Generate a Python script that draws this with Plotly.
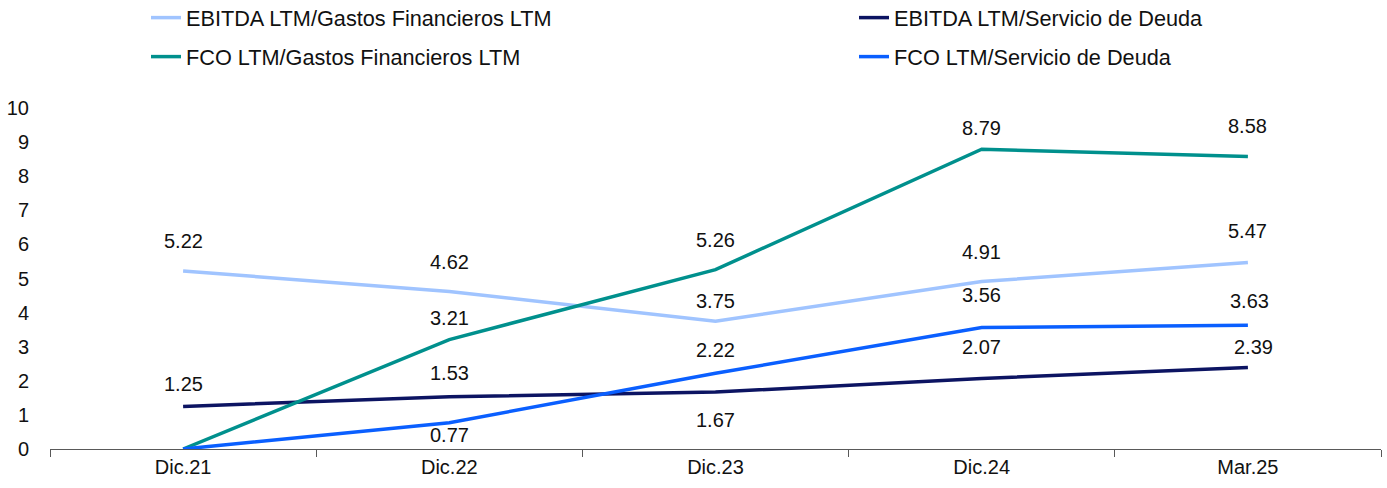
import plotly.graph_objects as go

categories = ["Dic.21", "Dic.22", "Dic.23", "Dic.24", "Mar.25"]

ebitda_gf = [5.22, 4.62, 3.75, 4.91, 5.47]
ebitda_sd = [1.25, 1.53, 1.67, 2.07, 2.39]
fco_gf = [0.0, 3.21, 5.26, 8.79, 8.58]
fco_sd = [0.0, 0.77, 2.22, 3.56, 3.63]

series_names = [
    "EBITDA LTM/Gastos Financieros LTM",
    "EBITDA LTM/Servicio de Deuda",
    "FCO LTM/Gastos Financieros LTM",
    "FCO LTM/Servicio de Deuda",
]
series_values = [ebitda_gf, ebitda_sd, fco_gf, fco_sd]
colors = ["#A0C4FF", "#0C1462", "#00908D", "#0A5FFF"]
legend_ids = ["legend", "legend2", "legend3", "legend4"]
# legend entry placement (px in the page): left of entry, vertical centre
legend_px = [(146, 18), (854, 18), (146, 57), (854, 57)]

# vertical offset (px) of each data label from its point; None = no label
label_shift = [
    [30, 29, 20, 30, 31],
    [22, 24, -28, 31, 21],
    [None, 22, 30, 21, 30],
    [None, -12, 23, 33, 24],
]
label_xshift = [
    [0, 0, 0, 0, 0],
    [0, 0, 0, 0, 6],
    [0, 0, 0, 0, 0],
    [0, 0, 0, 0, 2],
]

FONT = "Liberation Sans, Arial, sans-serif"
W, H = 1387, 488

fig = go.Figure()
for name, vals, col, lg in zip(series_names, series_values, colors, legend_ids):
    fig.add_trace(go.Scatter(
        x=categories, y=vals, name=name, mode="lines",
        line=dict(color=col, width=3.5),
        hoverinfo="skip", legend=lg,
    ))

annotations = []
for vals, shifts, xs in zip(series_values, label_shift, label_xshift):
    for c, v, s, dx in zip(categories, vals, shifts, xs):
        if s is None:
            continue
        annotations.append(dict(
            x=c, y=v, xref="x", yref="y", text=f"{v:.2f}",
            showarrow=False, yshift=s, xshift=dx,
            font=dict(family=FONT, size=20, color="#111111"),
        ))

legend_layout = {}
for lg, (px, py) in zip(legend_ids, legend_px):
    legend_layout[lg] = dict(
        orientation="h", xref="container", yref="container",
        x=px / W, y=1 - py / H,
        xanchor="left", yanchor="middle",
        font=dict(family=FONT, size=21.7, color="#111111"),
        bgcolor="rgba(0,0,0,0)",
    )

fig.update_layout(
    width=W, height=H,
    margin=dict(l=50, r=6, t=108, b=39, autoexpand=False),
    paper_bgcolor="white", plot_bgcolor="white",
    font=dict(family=FONT, size=20, color="#111111"),
    showlegend=True,
    annotations=annotations,
    **legend_layout,
)
fig.update_xaxes(
    type="category", range=[-0.5, 4.5],
    showline=True, linecolor="#595959", linewidth=1.2,
    ticks="outside", tickson="boundaries", ticklen=7, tickcolor="#595959",
    showgrid=False, zeroline=False,
    tickfont=dict(family=FONT, size=20, color="#111111"),
)
fig.update_yaxes(
    range=[0, 10], dtick=1, tick0=0,
    showline=False, showgrid=False, zeroline=False, ticks="",
    ticklabelstandoff=20,
    tickfont=dict(family=FONT, size=20, color="#111111"),
)
fig.write_html("out.html")
